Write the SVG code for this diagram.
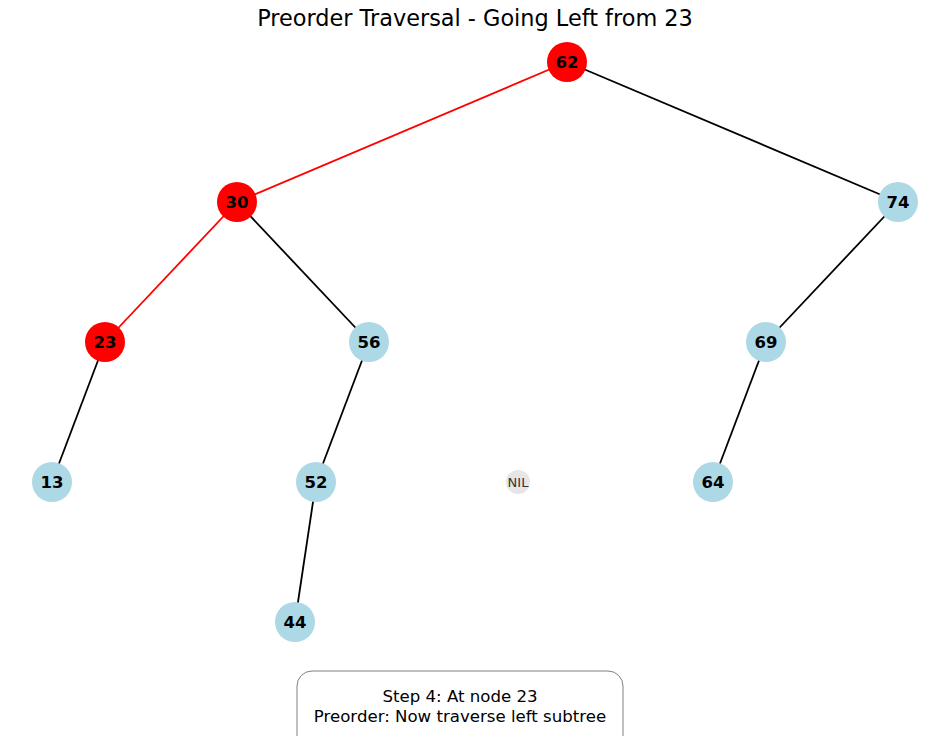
<svg xmlns="http://www.w3.org/2000/svg" width="950" height="736" viewBox="0 0 950 736">
<style>
.e{stroke:#000;stroke-width:1.8;fill:none}
.r{stroke:#ff0000;stroke-width:1.8;fill:none}
.n circle{fill:#add8e6}
.h circle{fill:#ff0000}
.n text,.h text{font-family:"DejaVu Sans",sans-serif;font-size:16.5px;font-weight:bold;fill:#000;text-anchor:middle;dominant-baseline:central}
.t{font-family:"DejaVu Sans",sans-serif;text-anchor:middle;fill:#000}
</style>
<rect width="950" height="736" fill="#fff"/>
<text class="t" x="475" y="26" font-size="22.4">Preorder Traversal - Going Left from 23</text>
<g id="edges">
<line class="r" x1="567" y1="62" x2="237" y2="202"/>
<line class="e" x1="567" y1="62" x2="898" y2="202"/>
<line class="r" x1="237" y1="202" x2="105" y2="342"/>
<line class="e" x1="237" y1="202" x2="369" y2="342"/>
<line class="e" x1="898" y1="202" x2="766" y2="342"/>
<line class="e" x1="105" y1="342" x2="52" y2="482"/>
<line class="e" x1="369" y1="342" x2="316" y2="482"/>
<line class="e" x1="766" y1="342" x2="713" y2="482"/>
<line class="e" x1="316" y1="482" x2="295" y2="622"/>
</g>
<g id="n62" class="h"><circle cx="567" cy="62" r="20"/><text x="567" y="62">62</text></g>
<g id="n30" class="h"><circle cx="237" cy="202" r="20"/><text x="237" y="202">30</text></g>
<g id="n74" class="n"><circle cx="898" cy="202" r="20"/><text x="898" y="202">74</text></g>
<g id="n23" class="h"><circle cx="105" cy="342" r="20"/><text x="105" y="342">23</text></g>
<g id="n56" class="n"><circle cx="369" cy="342" r="20"/><text x="369" y="342">56</text></g>
<g id="n69" class="n"><circle cx="766" cy="342" r="20"/><text x="766" y="342">69</text></g>
<g id="n13" class="n"><circle cx="52" cy="482" r="20"/><text x="52" y="482">13</text></g>
<g id="n52" class="n"><circle cx="316" cy="482" r="20"/><text x="316" y="482">52</text></g>
<g id="nil"><circle cx="518" cy="482" r="12" fill="#e6e6e6"/><text x="518" y="482" font-family="DejaVu Sans, sans-serif" font-size="13" fill="#333" text-anchor="middle" dominant-baseline="central">NIL</text></g>
<g id="n64" class="n"><circle cx="713" cy="482" r="20"/><text x="713" y="482">64</text></g>
<g id="n44" class="n"><circle cx="295" cy="622" r="20"/><text x="295" y="622">44</text></g>
<g id="caption">
<rect x="297" y="671" width="326" height="80" rx="15" fill="#fff" stroke="#808080" stroke-width="1"/>
<text class="t" x="460" y="702" font-size="16.6">Step 4: At node 23</text>
<text class="t" x="460" y="722" font-size="16.6">Preorder: Now traverse left subtree</text>
</g>
</svg>
